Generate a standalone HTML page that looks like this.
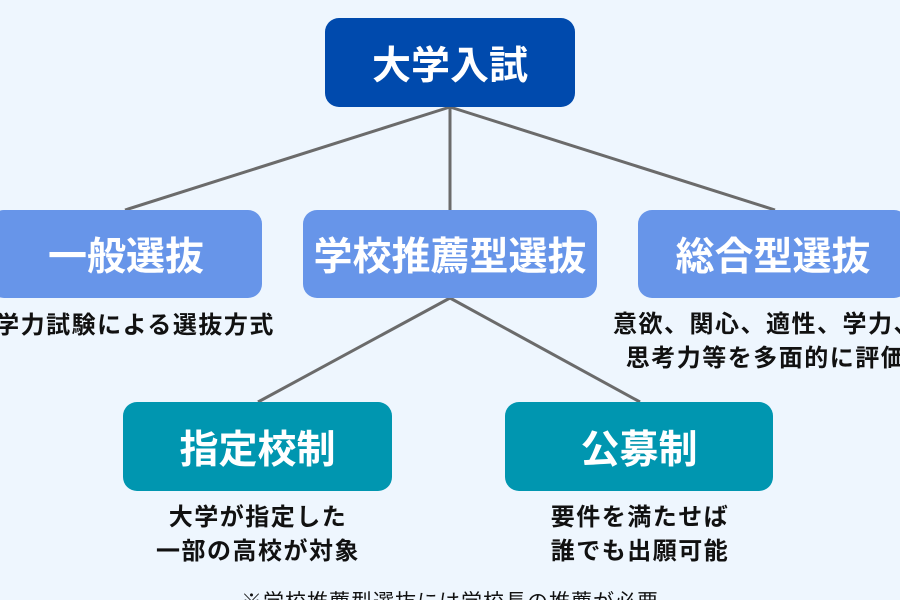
<!DOCTYPE html>
<html><head><meta charset="utf-8"><style>
html,body{margin:0;width:900px;height:600px;overflow:hidden;}
body{background:#eef6fe;position:relative;font-family:"Liberation Sans","Noto Sans CJK JP",sans-serif;}
.b{position:absolute;border-radius:14px;color:#fff;font-weight:bold;display:flex;align-items:center;justify-content:center;font-size:39px;white-space:nowrap;}
.t{position:absolute;font-weight:bold;font-size:24px;letter-spacing:1.5px;color:#111;text-align:center;white-space:nowrap;line-height:34px;}
svg{position:absolute;left:0;top:0}
</style></head><body>
<svg width="900" height="600"><g stroke="#6b6b6b" stroke-width="3">
<line x1="450" y1="107" x2="125" y2="210"/><line x1="450" y1="107" x2="450" y2="210"/><line x1="450" y1="107" x2="775" y2="210"/>
<line x1="450" y1="298" x2="258" y2="402"/><line x1="450" y1="298" x2="640" y2="402"/></g></svg>
<div class="b" style="left:325px;top:18px;width:250px;height:89px;background:#004aad;">大学入試</div>
<div class="b" style="left:-10px;top:210px;width:272px;height:88px;background:#6795e9;">一般選抜</div>
<div class="b" style="left:303px;top:210px;width:294px;height:88px;background:#6795e9;">学校推薦型選抜</div>
<div class="b" style="left:638px;top:210px;width:270px;height:88px;background:#6795e9;">総合型選抜</div>
<div class="b" style="left:123px;top:402px;width:269px;height:89px;background:#0096b0;">指定校制</div>
<div class="b" style="left:505px;top:402px;width:268px;height:89px;background:#0096b0;">公募制</div>
<div class="t" style="left:-15px;top:309px;width:300px;">学力試験による選抜方式</div>
<div class="t" style="left:561px;top:308px;width:410px;">意欲、関心、適性、学力、<br>思考力等を多面的に評価</div>
<div class="t" style="left:108px;top:501px;width:300px;">大学が指定した<br>一部の高校が対象</div>
<div class="t" style="left:490px;top:501px;width:300px;">要件を満たせば<br>誰でも出願可能</div>
<div class="t" style="left:150px;top:588px;width:600px;font-weight:normal;font-size:21px;letter-spacing:1px;line-height:30px;">※学校推薦型選抜には学校長の推薦が必要</div>
</body></html>
